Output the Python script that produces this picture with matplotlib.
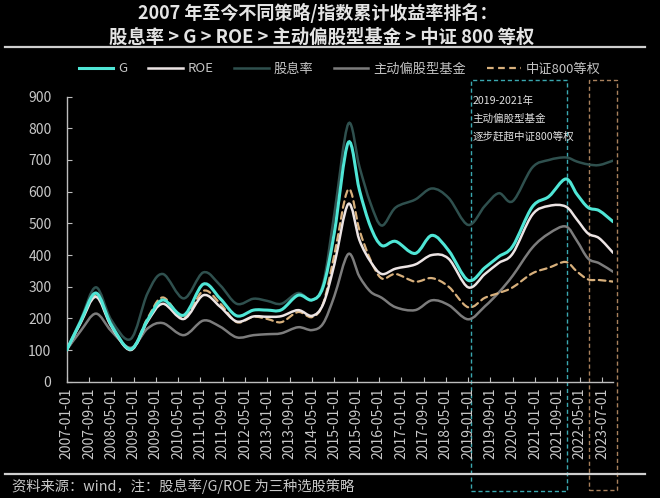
import numpy as np
import matplotlib
matplotlib.use("Agg")
import matplotlib.pyplot as plt
from matplotlib.path import Path
from matplotlib.patches import PathPatch, Rectangle
from matplotlib.lines import Line2D
import matplotlib.transforms as mtransforms

plt.rcParams['font.family'] = ['Noto Sans CJK SC', 'DejaVu Sans']

# --- data: months since 2007-01 and cumulative net value (start = 100) ---
months = [0, 5, 10.5, 16, 23, 29, 34.5, 42, 49, 55, 61, 67, 72, 77, 83, 88, 92, 96,
          101, 105, 109, 113, 118, 125, 131, 137, 144, 150, 155, 160, 167, 173, 179,
          183, 187, 191, 196]

g_vals = [100, 190, 280, 180, 103, 195, 258, 210, 308, 263, 208, 226, 226, 227, 273, 258,
          300, 470, 755, 605, 489, 430, 443, 405, 462, 414, 320, 360, 395, 428, 552, 585,
          640, 592, 550, 540, 505]
roe_vals = [100, 185, 268, 175, 100, 190, 246, 198, 273, 237, 190, 206, 205, 207, 226, 208,
            245, 370, 561, 447, 379, 340, 357, 370, 400, 388, 298, 340, 375, 405, 527, 555,
            553, 512, 468, 453, 407]
div_vals = [100, 195, 298, 195, 135, 279, 340, 263, 345, 305, 246, 262, 255, 246, 280, 258,
            310, 530, 814, 679, 563, 493, 550, 575, 610, 580, 495, 555, 595, 570, 676, 700,
            708, 695, 686, 684, 698]
fund_vals = [100, 160, 215, 160, 107, 168, 185, 147, 193, 174, 140, 147, 150, 153, 172, 163,
             184, 270, 403, 332, 284, 265, 235, 226, 257, 242, 197, 238, 282, 335, 423, 468,
             490, 445, 389, 374, 347]
csi_vals = [100, 188, 272, 178, 103, 200, 266, 202, 287, 247, 188, 205, 198, 188, 220, 204,
            247, 400, 607, 479, 384, 326, 340, 316, 327, 300, 235, 265, 280, 298, 342, 360,
            378, 348, 323, 321, 316]

tick_labels = ["2007-01-01", "2007-09-01", "2008-05-01", "2009-01-01", "2009-09-01",
               "2010-05-01", "2011-01-01", "2011-09-01", "2012-05-01", "2013-01-01",
               "2013-09-01", "2014-05-01", "2015-01-01", "2015-09-01", "2016-05-01",
               "2017-01-01", "2017-09-01", "2018-05-01", "2019-01-01", "2019-09-01",
               "2020-05-01", "2021-01-01", "2021-09-01", "2022-05-01", "2023-07-01"]
tick_pos = [8 * i for i in range(len(tick_labels))]


def smooth_path(x, y):
    # Catmull-Rom through the points, drawn as cubic Bezier segments
    p = np.column_stack([x, y]).astype(float)
    ext = np.vstack([p[0], p, p[-1]])
    verts = [p[0]]
    codes = [Path.MOVETO]
    for i in range(len(p) - 1):
        p0, p1, p2, p3 = ext[i], ext[i + 1], ext[i + 2], ext[i + 3]
        c1 = p1 + (p2 - p0) / 6.0
        c2 = p2 - (p3 - p1) / 6.0
        verts += [c1, c2, p2]
        codes += [Path.CURVE4] * 3
    return Path(verts, codes)


series = [
    ("G", g_vals, "#4fe6d6", 2.2, "-", 5),
    ("ROE", roe_vals, "#ece4e4", 1.8, "-", 4),
    ("股息率", div_vals, "#2f504e", 1.8, "-", 2),
    ("主动偏股型基金", fund_vals, "#7c7c7c", 1.8, "-", 2),
    ("中证800等权", csi_vals, "#d8b07c", 1.6, (0, (3, 2)), 3),
]

fig = plt.figure(figsize=(6.6, 4.98), dpi=100)
fig.patch.set_facecolor("black")
ax = fig.add_axes([0.101, 0.2335, 0.828, 0.5725])
ax.set_facecolor("black")

handles = []
for name, vals, color, lw, ls, z in series:
    patch = PathPatch(smooth_path(months, vals), fill=False, edgecolor=color,
                      lw=lw, linestyle=ls, zorder=z, capstyle="round")
    ax.add_patch(patch)
    handles.append(Line2D([], [], color=color, lw=lw, linestyle=ls))

ax.set_xlim(0, 196)
ax.set_ylim(0, 900)
ax.set_yticks(range(0, 901, 100))
ax.set_xticks(tick_pos)
ax.set_xticklabels(tick_labels, rotation=90)
for s in ["top", "right"]:
    ax.spines[s].set_visible(False)
for s in ["left", "bottom"]:
    ax.spines[s].set_color("#bdbdbd")
    ax.spines[s].set_linewidth(1.0)
ax.tick_params(axis="both", direction="in", length=3.5, color="#bdbdbd",
               labelcolor="#c8c8c8")
ax.tick_params(axis="y", labelsize=10, pad=11)
ax.tick_params(axis="x", labelsize=10, pad=4)

# highlight boxes (data x, figure y)
trans = mtransforms.blended_transform_factory(ax.transData, fig.transFigure)
y0, y1 = 1 - 491 / 498, 1 - 80 / 498
ax.add_patch(Rectangle((145, y0), 34.5, y1 - y0, transform=trans, fill=False,
                       edgecolor="#3aa8b0", lw=1.0, linestyle=(0, (3, 2)),
                       clip_on=False, zorder=1))
ax.add_patch(Rectangle((187.3, y0 + 0.002), 10.2, y1 - y0 - 0.002, transform=trans,
                       fill=False, edgecolor="#a8805c", lw=1.0, linestyle=(0, (3, 2)),
                       clip_on=False, zorder=1))

for i, txt in enumerate(["2019-2021年", "主动偏股型基金", "逐步赶超中证800等权"]):
    ax.text(145.5, 1 - (101 + 17.5 * i) / 498, txt, transform=trans, fontsize=7.6,
            color="#e0e0e0", ha="left", va="center")

# titles
fig.text(0.482, 1 - 13 / 498, "2007 年至今不同策略/指数累计收益率排名：",
         ha="center", va="center", fontsize=13, fontweight="bold", color="#e4e4e4")
fig.text(0.488, 1 - 37 / 498, "股息率 > G > ROE > 主动偏股型基金 > 中证 800 等权",
         ha="center", va="center", fontsize=13.2, fontweight="bold", color="#e4e4e4")
fig.add_artist(Line2D([5 / 660, 645 / 660], [1 - 47 / 498] * 2, transform=fig.transFigure,
                      color="#cfcfcf", lw=1.6))
fig.add_artist(Line2D([5 / 660, 645 / 660], [1 - 474 / 498] * 2, transform=fig.transFigure,
                      color="#cfcfcf", lw=1.6))

fig.legend(handles, [s[0] for s in series], loc="center",
           bbox_to_anchor=(0.515, 1 - 69 / 498), ncol=5, frameon=False,
           fontsize=9.5, handlelength=2.6, columnspacing=1.6, handletextpad=0.35,
           labelcolor="#c4c4c4")

fig.text(12 / 660, 1 - 486 / 498, "资料来源：wind，注：股息率/G/ROE 为三种选股策略",
         ha="left", va="center", fontsize=10.3, color="#c8c8c8")

fig.savefig("out.png", dpi=100, facecolor=fig.get_facecolor())
